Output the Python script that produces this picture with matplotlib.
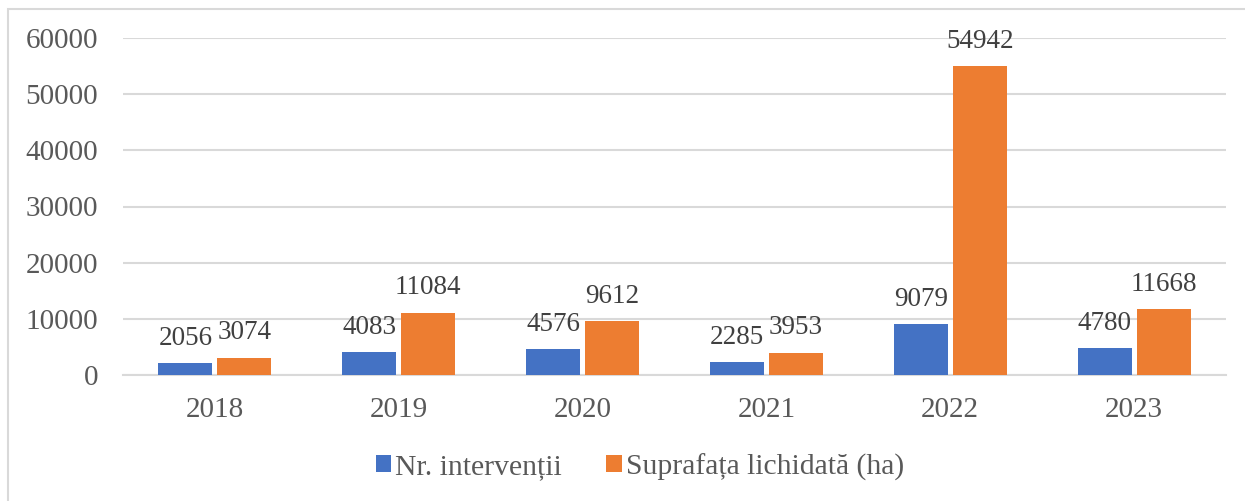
import matplotlib.pyplot as plt
import numpy as np
from matplotlib.patches import Rectangle

# Data
years = ['2018', '2019', '2020', '2021', '2022', '2023']
interventii = [2056, 4083, 4576, 2285, 9079, 4780]
suprafata = [3074, 11084, 9612, 3953, 54942, 11668]

blue = '#4472C4'
orange = '#ED7D31'
grey = '#595959'
grid = '#d9d9d9'

plt.rcParams['font.family'] = ['Liberation Serif', 'DejaVu Serif']

fig = plt.figure(figsize=(12.45, 5.01), dpi=100)
ax = fig.add_axes([123/1245, 1 - 375/501, 1103/1245, 337/501])

x = np.arange(len(years))
w = 0.293
gap = 0.014
b1 = ax.bar(x - w/2 - gap, interventii, w, color=blue, label='Nr. intervenții', zorder=3)
b2 = ax.bar(x + w/2 + gap, suprafata, w, color=orange, label='Suprafața lichidată (ha)', zorder=3)

for bars, vals in ((b1, interventii), (b2, suprafata)):
    for r, v in zip(bars, vals):
        ax.annotate(str(v), (r.get_x() + r.get_width()/2, v), xytext=(0, 9),
                    textcoords='offset points', ha='center', va='bottom',
                    fontsize=19.5, color='#404040')

ax.set_xlim(-0.5, len(years) - 0.5)
ax.set_ylim(0, 60000)
ax.set_yticks(range(0, 60001, 10000))
ax.set_xticks(x)
ax.set_xticklabels(years)
ax.yaxis.grid(True, color=grid, linewidth=1.5, zorder=0)
ax.tick_params(axis='both', length=0, labelsize=21, labelcolor=grey)
ax.tick_params(axis='x', pad=16)
ax.tick_params(axis='y', pad=18)
for s in ['top', 'right', 'left']:
    ax.spines[s].set_visible(False)
ax.spines['bottom'].set_color(grid)
ax.spines['bottom'].set_linewidth(1.5)

leg = fig.legend(handles=[b1, b2], loc='center', bbox_to_anchor=(640/1245, 1 - 467/501),
                 ncol=2, frameon=False, fontsize=21.3, handlelength=0.52, handleheight=0.52,
                 handletextpad=0.15, columnspacing=1.5)
for t in leg.get_texts():
    t.set_color(grey)

# outer chart frame
fig.patches.append(Rectangle((8/1245, -0.05), 1.1, 1 - 9/501 + 0.05, transform=fig.transFigure,
                             fill=False, edgecolor=grid, linewidth=1.5))

fig.savefig('out.png', dpi=100)
